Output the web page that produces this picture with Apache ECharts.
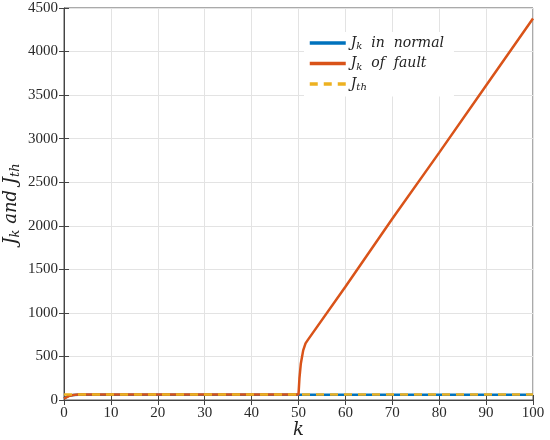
<!DOCTYPE html>
<html>
<head>
<meta charset="utf-8">
<script src="https://cdn.jsdelivr.net/npm/echarts@6/dist/echarts.min.js"></script>
<style>
  html, body { margin: 0; padding: 0; background: #fff; }
  #chart { width: 550px; height: 440px; }
</style>
</head>
<body>
<div id="chart"></div>
<script>
// data: [k, J]
const normalData = [[0, 20], [1, 48], [2, 58], [3, 60], [100, 60]]
const faultData = [
  [0, 15], [1, 45], [2, 58], [3, 62], [50, 62],
  [50.2, 250], [50.5, 420], [51, 570], [51.5, 650], [52, 690],
  [60, 1300], [70, 2080], [80, 2840], [90, 3610], [100, 4380]
]
const thData = [[0, 62], [100, 62]]

const serif = '"DejaVu Serif", "Liberation Serif", serif'
const tickFont = '"Liberation Serif", "DejaVu Serif", serif'
const blue = '#0072BD'
const orange = '#D95319'
const yellow = '#EDB120'

const rich = {
  i: { fontFamily: serif, fontStyle: 'italic', fontSize: 14, color: '#222' },
  s: { fontFamily: serif, fontStyle: 'italic', fontSize: 10, color: '#222', verticalAlign: 'bottom', padding: [7, 0, 0, 0] }
}

let chart = echarts.init(document.getElementById('chart'))
let option = {
  animation: false,
  grid: {
    left: 64, right: 17, top: 8, bottom: 40,
    outerBoundsMode: 'none', containLabel: false,
    show: true, borderColor: '#555', borderWidth: 1
  },
  legend: {
    left: 304, top: 32,
    orient: 'vertical',
    backgroundColor: '#fff',
    itemWidth: 36, itemHeight: 12, itemGap: 5,
    padding: [4, 10, 4, 4],
    data: ['normal', 'fault', 'th'],
    itemStyle: { opacity: 0 },
    lineStyle: { width: 3.5 },
    formatter: function (name) {
      if (name === 'normal') return '{i|J}{s|k}{i|  in  normal}'
      if (name === 'fault') return '{i|J}{s|k}{i|  of  fault}'
      return '{i|J}{s|th}'
    },
    textStyle: { rich: rich }
  },
  xAxis: [
    {
      type: 'value', min: 0, max: 100, interval: 10,
      name: 'k', nameLocation: 'middle', nameGap: 21, nameMoveOverlap: false,
      nameTextStyle: { fontFamily: serif, fontStyle: 'italic', fontSize: 18, color: '#222' },
      axisLine: { lineStyle: { color: '#444' } },
      axisTick: { inside: true, length: 5, lineStyle: { color: '#444' } },
      axisLabel: { fontFamily: tickFont, fontSize: 15, color: '#2a2a2a', margin: 6 },
      splitLine: { show: true, lineStyle: { color: '#e3e3e3' } }
    },
    {
      type: 'value', min: 0, max: 100, interval: 10, position: 'top',
      axisLine: { show: false },
      axisTick: { inside: true, length: 5, lineStyle: { color: '#444' } },
      axisLabel: { show: false }, splitLine: { show: false }
    }
  ],
  yAxis: [
    {
      type: 'value', min: 0, max: 4500, interval: 500,
      name: '{i|J}{s|k}{i| and J}{s|th}',
      nameLocation: 'middle', nameGap: 42, nameRotate: 90, nameMoveOverlap: false,
      nameTextStyle: {
        rich: {
          i: { fontFamily: serif, fontStyle: 'italic', fontSize: 18, color: '#222' },
          s: { fontFamily: serif, fontStyle: 'italic', fontSize: 13, color: '#222', verticalAlign: 'bottom', padding: [8, 0, 0, 0] }
        }
      },
      axisLine: { show: true, lineStyle: { color: '#444' } },
      axisTick: { show: true, inside: true, length: 5, lineStyle: { color: '#444' } },
      axisLabel: { fontFamily: tickFont, fontSize: 15, color: '#2a2a2a', margin: 6, formatter: v => String(v) },
      splitLine: { show: true, lineStyle: { color: '#e3e3e3' } }
    },
    {
      type: 'value', min: 0, max: 4500, interval: 500, position: 'right',
      axisLine: { show: false },
      axisTick: { show: true, inside: true, length: 5, lineStyle: { color: '#444' } },
      axisLabel: { show: false }, splitLine: { show: false }
    }
  ],
  series: [
    {
      name: 'normal', type: 'line', data: normalData, symbol: 'none',
      lineStyle: { color: blue, width: 2.5 }, itemStyle: { color: blue }, z: 2
    },
    {
      name: 'fault', type: 'line', data: faultData, symbol: 'none',
      lineStyle: { color: orange, width: 2.5 }, itemStyle: { color: orange }, z: 3
    },
    {
      name: 'th', type: 'line', data: thData, symbol: 'none',
      lineStyle: { color: yellow, width: 2.5, type: [8, 6] }, itemStyle: { color: yellow }, z: 4
    }
  ]
}
chart.setOption(option)
</script>
</body>
</html>
